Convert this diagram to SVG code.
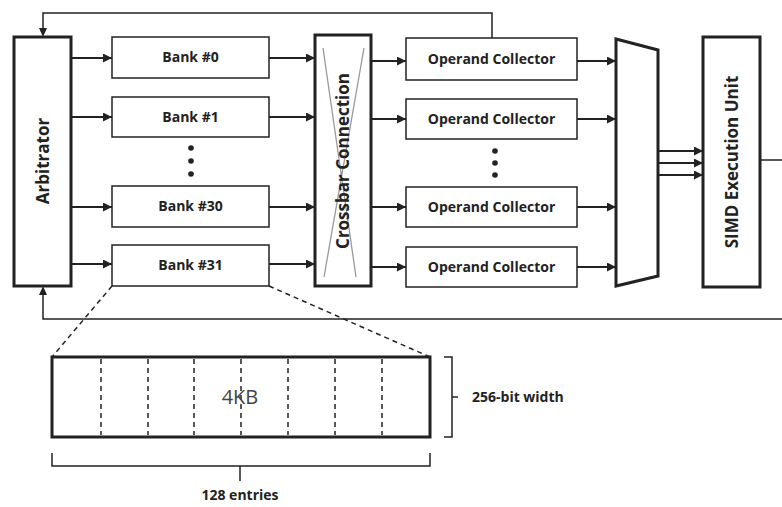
<svg xmlns="http://www.w3.org/2000/svg" width="782" height="507" viewBox="0 0 782 507">
<defs>
<marker id="ah" viewBox="0 0 10 10" refX="10" refY="5" markerWidth="9" markerHeight="9" markerUnits="userSpaceOnUse" orient="auto"><path d="M0,0 L10,5 L0,10 z" fill="#222"/></marker>
</defs>
<style>
.box{fill:#fff;stroke:#222;stroke-width:1.5}
.tbox{fill:#fff;stroke:#222;stroke-width:3}
.lbl{font-family:"Open Sans","DejaVu Sans",sans-serif;font-weight:bold;font-size:14px;fill:#222;text-anchor:middle}
.big{font-size:17px}
.ar{stroke:#222;stroke-width:2;fill:none;marker-end:url(#ah)}
.ln{stroke:#222;stroke-width:1.5;fill:none}
.dash{stroke:#222;stroke-width:1.5;fill:none;stroke-dasharray:5,4}
</style>
<rect width="782" height="507" fill="#fff"/>
<g id="connectors">
<path class="ln" d="M492,38 V13 H43 V29"/>
<path d="M43,37 L39,28 L47,28 z" fill="#222"/>
<path class="ln" d="M782,319 H43 V294"/>
<path d="M43,286 L39,295 L47,295 z" fill="#222"/>
<path class="ln" d="M761,160 H782"/>
<path class="ar" d="M71,58 H112"/>
<path class="ar" d="M71,117 H112"/>
<path class="ar" d="M71,207 H112"/>
<path class="ar" d="M71,264 H112"/>
<path class="ar" d="M269,58 H315"/>
<path class="ar" d="M269,117 H315"/>
<path class="ar" d="M269,207 H315"/>
<path class="ar" d="M269,264 H315"/>
<path class="ar" d="M371,61 H406"/>
<path class="ar" d="M371,119 H406"/>
<path class="ar" d="M371,207 H406"/>
<path class="ar" d="M371,267 H406"/>
<path class="ar" d="M577,61 H616"/>
<path class="ar" d="M577,119 H616"/>
<path class="ar" d="M577,207 H616"/>
<path class="ar" d="M577,267 H616"/>
<path class="ar" d="M658,151 H703"/>
<path class="ar" d="M658,163 H703"/>
<path class="ar" d="M658,175 H703"/>
<path class="dash" d="M112,286 L52,357"/>
<path class="dash" d="M269,286 L430,357"/>
</g>
<g id="arbitrator">
<rect class="tbox" x="14" y="37" width="57" height="249"/>
<text class="lbl big" transform="translate(49,161) rotate(-90)">Arbitrator</text>
</g>
<g id="bank0"><rect class="box" x="112" y="37" width="157" height="41"/><text class="lbl" x="190.5" y="62">Bank #0</text></g>
<g id="bank1"><rect class="box" x="112" y="97" width="157" height="40"/><text class="lbl" x="190.5" y="122">Bank #1</text></g>
<g id="bank30"><rect class="box" x="112" y="186" width="157" height="41"/><text class="lbl" x="190.5" y="211">Bank #30</text></g>
<g id="bank31"><rect class="box" x="112" y="245" width="157" height="41"/><text class="lbl" x="190.5" y="270">Bank #31</text></g>
<g id="dots1" fill="#222"><circle cx="191" cy="148" r="2.8"/><circle cx="191" cy="161" r="2.8"/><circle cx="191" cy="174" r="2.8"/></g>
<g id="crossbar">
<rect class="tbox" x="315" y="35" width="56" height="251"/>
<path d="M323,48 L356,277 M364,48 L324,277" stroke="#999" stroke-width="1.3" fill="none"/>
<text class="lbl big" transform="translate(349,161) rotate(-90)">Crossbar Connection</text>
</g>
<g id="oc0"><rect class="box" x="406" y="38" width="171" height="42"/><text class="lbl" x="491.5" y="64">Operand Collector</text></g>
<g id="oc1"><rect class="box" x="406" y="99" width="171" height="40"/><text class="lbl" x="491.5" y="124">Operand Collector</text></g>
<g id="oc30"><rect class="box" x="406" y="187" width="171" height="40"/><text class="lbl" x="491.5" y="212">Operand Collector</text></g>
<g id="oc31"><rect class="box" x="406" y="247" width="171" height="40"/><text class="lbl" x="491.5" y="272">Operand Collector</text></g>
<g id="dots2" fill="#222"><circle cx="495" cy="151" r="2.8"/><circle cx="495" cy="163" r="2.8"/><circle cx="495" cy="175" r="2.8"/></g>
<g id="mux"><path d="M616,39 L658,50 L658,276 L616,286 z" fill="#fff" stroke="#222" stroke-width="3"/></g>
<g id="simd">
<rect class="tbox" x="703" y="37" width="57" height="250"/>
<text class="lbl big" transform="translate(738,162) rotate(-90)">SIMD Execution Unit</text>
</g>
<g id="bankdetail">
<rect x="52" y="357" width="378" height="80" fill="#fff" stroke="#222" stroke-width="3"/>
<path class="dash" d="M101,359 V435 M148,359 V435 M194,359 V435 M241,359 V435 M288,359 V435 M335,359 V435 M382,359 V435" stroke-dasharray="5,3.5"/>
<text x="240" y="404" font-family="'Open Sans','DejaVu Sans',sans-serif" font-size="20" fill="#444" text-anchor="middle">4KB</text>
</g>
<g id="brackets">
<path class="ln" d="M444,357 H452 V437 H444 M452,397 H458" stroke-width="1.2"/>
<path class="ln" d="M52,453 V466 H430 V453 M240,466 V481" stroke-width="1.2"/>
<text class="lbl" x="472" y="402" style="text-anchor:start">256-bit width</text>
<text class="lbl" x="240" y="500">128 entries</text>
</g>
</svg>
